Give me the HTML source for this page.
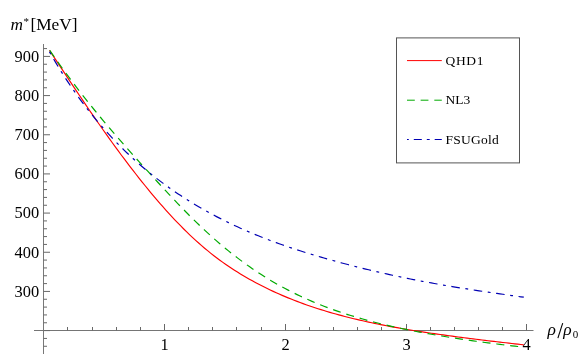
<!DOCTYPE html>
<html><head><meta charset="utf-8"><title>m* vs rho</title>
<style>html,body{margin:0;padding:0;background:#fff;}svg{display:block;will-change:transform;}.ls{font-family:"Liberation Serif",serif;}</style></head>
<body><svg width="581" height="364" viewBox="0 0 581 364">
<rect width="581" height="364" fill="#fff"/>
<g stroke="#686868" stroke-width="1" fill="none">
<line x1="34" y1="330.5" x2="533.5" y2="330.5" stroke="#757575"/>
<line x1="43.5" y1="44" x2="43.5" y2="354" stroke="#787878"/>
<line x1="67.5" y1="330.5" x2="67.5" y2="327"/>
<line x1="92.5" y1="330.5" x2="92.5" y2="327"/>
<line x1="116.5" y1="330.5" x2="116.5" y2="327"/>
<line x1="140.5" y1="330.5" x2="140.5" y2="327"/>
<line x1="164.5" y1="330.5" x2="164.5" y2="324"/>
<line x1="188.5" y1="330.5" x2="188.5" y2="327"/>
<line x1="212.5" y1="330.5" x2="212.5" y2="327"/>
<line x1="236.5" y1="330.5" x2="236.5" y2="327"/>
<line x1="261.5" y1="330.5" x2="261.5" y2="327"/>
<line x1="285.5" y1="330.5" x2="285.5" y2="324"/>
<line x1="309.5" y1="330.5" x2="309.5" y2="327"/>
<line x1="333.5" y1="330.5" x2="333.5" y2="327"/>
<line x1="357.5" y1="330.5" x2="357.5" y2="327"/>
<line x1="381.5" y1="330.5" x2="381.5" y2="327"/>
<line x1="406.5" y1="330.5" x2="406.5" y2="324"/>
<line x1="430.5" y1="330.5" x2="430.5" y2="327"/>
<line x1="454.5" y1="330.5" x2="454.5" y2="327"/>
<line x1="478.5" y1="330.5" x2="478.5" y2="327"/>
<line x1="502.5" y1="330.5" x2="502.5" y2="327"/>
<line x1="526.5" y1="330.5" x2="526.5" y2="324"/>
<line x1="43.5" y1="346.27" x2="47" y2="346.27"/>
<line x1="43.5" y1="338.43" x2="47" y2="338.43"/>
<line x1="43.5" y1="330.6" x2="50" y2="330.6"/>
<line x1="43.5" y1="322.77" x2="47" y2="322.77"/>
<line x1="43.5" y1="314.93" x2="47" y2="314.93"/>
<line x1="43.5" y1="307.1" x2="47" y2="307.1"/>
<line x1="43.5" y1="299.26" x2="47" y2="299.26"/>
<line x1="43.5" y1="291.43" x2="50" y2="291.43"/>
<line x1="43.5" y1="283.6" x2="47" y2="283.6"/>
<line x1="43.5" y1="275.76" x2="47" y2="275.76"/>
<line x1="43.5" y1="267.93" x2="47" y2="267.93"/>
<line x1="43.5" y1="260.09" x2="47" y2="260.09"/>
<line x1="43.5" y1="252.26" x2="50" y2="252.26"/>
<line x1="43.5" y1="244.43" x2="47" y2="244.43"/>
<line x1="43.5" y1="236.59" x2="47" y2="236.59"/>
<line x1="43.5" y1="228.76" x2="47" y2="228.76"/>
<line x1="43.5" y1="220.92" x2="47" y2="220.92"/>
<line x1="43.5" y1="213.09" x2="50" y2="213.09"/>
<line x1="43.5" y1="205.26" x2="47" y2="205.26"/>
<line x1="43.5" y1="197.42" x2="47" y2="197.42"/>
<line x1="43.5" y1="189.59" x2="47" y2="189.59"/>
<line x1="43.5" y1="181.75" x2="47" y2="181.75"/>
<line x1="43.5" y1="173.92" x2="50" y2="173.92"/>
<line x1="43.5" y1="166.09" x2="47" y2="166.09"/>
<line x1="43.5" y1="158.25" x2="47" y2="158.25"/>
<line x1="43.5" y1="150.42" x2="47" y2="150.42"/>
<line x1="43.5" y1="142.58" x2="47" y2="142.58"/>
<line x1="43.5" y1="134.75" x2="50" y2="134.75"/>
<line x1="43.5" y1="126.92" x2="47" y2="126.92"/>
<line x1="43.5" y1="119.08" x2="47" y2="119.08"/>
<line x1="43.5" y1="111.25" x2="47" y2="111.25"/>
<line x1="43.5" y1="103.41" x2="47" y2="103.41"/>
<line x1="43.5" y1="95.58" x2="50" y2="95.58"/>
<line x1="43.5" y1="87.75" x2="47" y2="87.75"/>
<line x1="43.5" y1="79.91" x2="47" y2="79.91"/>
<line x1="43.5" y1="72.08" x2="47" y2="72.08"/>
<line x1="43.5" y1="64.24" x2="47" y2="64.24"/>
<line x1="43.5" y1="56.41" x2="50" y2="56.41"/>
<line x1="43.5" y1="48.58" x2="47" y2="48.58"/>
</g>
<g class="ls" font-size="16.4" fill="#000">
<text x="39.2" y="296.83" text-anchor="end">300</text>
<text x="39.2" y="257.66" text-anchor="end">400</text>
<text x="39.2" y="218.49" text-anchor="end">500</text>
<text x="39.2" y="179.32" text-anchor="end">600</text>
<text x="39.2" y="140.15" text-anchor="end">700</text>
<text x="39.2" y="100.98" text-anchor="end">800</text>
<text x="39.2" y="61.81" text-anchor="end">900</text>
<text x="164.5" y="350.3" text-anchor="middle">1</text>
<text x="285.5" y="350.3" text-anchor="middle">2</text>
<text x="406.5" y="350.3" text-anchor="middle">3</text>
<text x="526.5" y="350.3" text-anchor="middle">4</text>
<text x="10.4" y="30" font-size="17.3"><tspan font-style="italic">m</tspan><tspan font-size="11" dy="-5" dx="0.5">*</tspan><tspan dy="5" dx="1.6">[MeV]</tspan></text>
<text x="547.6" y="334.7" font-size="17.5" font-style="italic">ρ</text>
<line x1="557.9" y1="338.1" x2="562.7" y2="323.2" stroke="#000" stroke-width="1.1"/>
<text x="563.3" y="334.7" font-size="17.5" font-style="italic">ρ</text>
<text x="572.8" y="338.1" font-size="11">0</text>
</g>
<path d="M49.50,50.37 L52.48,54.88 L55.47,59.39 L58.45,63.90 L61.43,68.41 L64.42,72.91 L67.40,77.41 L70.38,81.89 L73.36,86.36 L76.35,90.82 L79.33,95.26 L82.31,99.69 L85.30,104.09 L88.28,108.48 L91.26,112.84 L94.25,117.17 L97.23,121.48 L100.21,125.75 L103.19,129.99 L106.18,134.20 L109.16,138.38 L112.14,142.52 L115.13,146.62 L118.11,150.69 L121.09,154.72 L124.08,158.71 L127.06,162.66 L130.04,166.57 L133.02,170.45 L136.01,174.27 L138.99,178.06 L141.97,181.80 L144.96,185.50 L147.94,189.15 L150.92,192.76 L153.91,196.31 L156.89,199.82 L159.87,203.28 L162.85,206.69 L165.84,210.04 L168.82,213.34 L171.80,216.59 L174.79,219.77 L177.77,222.90 L180.75,225.97 L183.74,228.98 L186.72,231.92 L189.70,234.80 L192.68,237.62 L195.67,240.37 L198.65,243.05 L201.63,245.66 L204.62,248.21 L207.60,250.68 L210.58,253.09 L213.57,255.44 L216.55,257.72 L219.53,259.95 L222.52,262.11 L225.50,264.21 L228.48,266.26 L231.46,268.26 L234.45,270.20 L237.43,272.09 L240.41,273.94 L243.40,275.73 L246.38,277.48 L249.36,279.18 L252.35,280.84 L255.33,282.46 L258.31,284.04 L261.29,285.58 L264.28,287.09 L267.26,288.55 L270.24,289.99 L273.23,291.38 L276.21,292.75 L279.19,294.08 L282.18,295.38 L285.16,296.64 L288.14,297.88 L291.12,299.09 L294.11,300.26 L297.09,301.41 L300.07,302.53 L303.06,303.62 L306.04,304.69 L309.02,305.72 L312.01,306.74 L314.99,307.73 L317.97,308.70 L320.95,309.64 L323.94,310.56 L326.92,311.46 L329.90,312.34 L332.89,313.20 L335.87,314.04 L338.85,314.86 L341.84,315.66 L344.82,316.44 L347.80,317.21 L350.78,317.96 L353.77,318.69 L356.75,319.40 L359.73,320.10 L362.72,320.79 L365.70,321.46 L368.68,322.11 L371.67,322.75 L374.65,323.38 L377.63,323.99 L380.62,324.59 L383.60,325.17 L386.58,325.75 L389.56,326.31 L392.55,326.86 L395.53,327.41 L398.51,327.94 L401.50,328.46 L404.48,328.97 L407.46,329.47 L410.45,329.97 L413.43,330.45 L416.41,330.93 L419.39,331.40 L422.38,331.87 L425.36,332.32 L428.34,332.77 L431.33,333.22 L434.31,333.66 L437.29,334.09 L440.28,334.52 L443.26,334.94 L446.24,335.36 L449.22,335.77 L452.21,336.17 L455.19,336.58 L458.17,336.97 L461.16,337.36 L464.14,337.75 L467.12,338.13 L470.11,338.51 L473.09,338.89 L476.07,339.26 L479.05,339.63 L482.04,339.99 L485.02,340.35 L488.00,340.71 L490.99,341.06 L493.97,341.41 L496.95,341.76 L499.94,342.11 L502.92,342.45 L505.90,342.79 L508.88,343.13 L511.87,343.47 L514.85,343.81 L517.83,344.14 L520.82,344.48 L523.80,344.81" stroke="#ff0000" stroke-width="1.15" fill="none"/>
<path d="M49.50,50.03 L52.48,54.36 L55.47,58.63 L58.45,62.85 L61.43,67.02 L64.42,71.13 L67.40,75.20 L70.38,79.21 L73.36,83.18 L76.35,87.10 L79.33,90.98 L82.31,94.81 L85.30,98.61 L88.28,102.36 L91.26,106.07 L94.25,109.75 L97.23,113.39 L100.21,117.00 L103.19,120.58 L106.18,124.13 L109.16,127.64 L112.14,131.13 L115.13,134.60 L118.11,138.04 L121.09,141.45 L124.08,144.85 L127.06,148.22 L130.04,151.58 L133.02,154.92 L136.01,158.25 L138.99,161.56 L141.97,164.86 L144.96,168.15 L147.94,171.43 L150.92,174.70 L153.91,177.97 L156.89,181.22 L159.87,184.47 L162.85,187.70 L165.84,190.91 L168.82,194.11 L171.80,197.28 L174.79,200.44 L177.77,203.56 L180.75,206.66 L183.74,209.73 L186.72,212.76 L189.70,215.76 L192.68,218.72 L195.67,221.65 L198.65,224.53 L201.63,227.37 L204.62,230.16 L207.60,232.90 L210.58,235.61 L213.57,238.26 L216.55,240.87 L219.53,243.44 L222.52,245.96 L225.50,248.43 L228.48,250.86 L231.46,253.25 L234.45,255.59 L237.43,257.88 L240.41,260.13 L243.40,262.34 L246.38,264.50 L249.36,266.61 L252.35,268.68 L255.33,270.71 L258.31,272.69 L261.29,274.62 L264.28,276.51 L267.26,278.36 L270.24,280.16 L273.23,281.93 L276.21,283.65 L279.19,285.33 L282.18,286.97 L285.16,288.57 L288.14,290.13 L291.12,291.66 L294.11,293.14 L297.09,294.60 L300.07,296.01 L303.06,297.40 L306.04,298.75 L309.02,300.06 L312.01,301.35 L314.99,302.60 L317.97,303.83 L320.95,305.02 L323.94,306.19 L326.92,307.32 L329.90,308.43 L332.89,309.52 L335.87,310.58 L338.85,311.61 L341.84,312.62 L344.82,313.60 L347.80,314.56 L350.78,315.50 L353.77,316.41 L356.75,317.31 L359.73,318.18 L362.72,319.03 L365.70,319.86 L368.68,320.67 L371.67,321.47 L374.65,322.24 L377.63,323.00 L380.62,323.74 L383.60,324.46 L386.58,325.17 L389.56,325.86 L392.55,326.54 L395.53,327.20 L398.51,327.85 L401.50,328.48 L404.48,329.10 L407.46,329.71 L410.45,330.31 L413.43,330.90 L416.41,331.48 L419.39,332.04 L422.38,332.60 L425.36,333.15 L428.34,333.69 L431.33,334.22 L434.31,334.75 L437.29,335.26 L440.28,335.77 L443.26,336.27 L446.24,336.76 L449.22,337.24 L452.21,337.72 L455.19,338.18 L458.17,338.64 L461.16,339.09 L464.14,339.54 L467.12,339.98 L470.11,340.41 L473.09,340.83 L476.07,341.25 L479.05,341.66 L482.04,342.07 L485.02,342.47 L488.00,342.86 L490.99,343.24 L493.97,343.63 L496.95,344.00 L499.94,344.37 L502.92,344.73 L505.90,345.09 L508.88,345.45 L511.87,345.80 L514.85,346.14 L517.83,346.48 L520.82,346.81 L523.80,347.14" stroke="#00aa00" stroke-width="1.2" fill="none" stroke-dasharray="8.0 5.925" stroke-dashoffset="-0.4"/>
<path d="M49.50,51.88 L52.48,57.08 L55.47,62.14 L58.45,67.08 L61.43,71.89 L64.42,76.57 L67.40,81.14 L70.38,85.60 L73.36,89.94 L76.35,94.17 L79.33,98.31 L82.31,102.34 L85.30,106.27 L88.28,110.11 L91.26,113.86 L94.25,117.53 L97.23,121.11 L100.21,124.61 L103.19,128.04 L106.18,131.40 L109.16,134.68 L112.14,137.89 L115.13,141.04 L118.11,144.11 L121.09,147.12 L124.08,150.07 L127.06,152.95 L130.04,155.77 L133.02,158.53 L136.01,161.23 L138.99,163.87 L141.97,166.46 L144.96,168.99 L147.94,171.47 L150.92,173.90 L153.91,176.28 L156.89,178.61 L159.87,180.89 L162.85,183.13 L165.84,185.32 L168.82,187.46 L171.80,189.57 L174.79,191.62 L177.77,193.64 L180.75,195.62 L183.74,197.56 L186.72,199.46 L189.70,201.32 L192.68,203.15 L195.67,204.94 L198.65,206.70 L201.63,208.43 L204.62,210.12 L207.60,211.79 L210.58,213.42 L213.57,215.02 L216.55,216.60 L219.53,218.14 L222.52,219.66 L225.50,221.14 L228.48,222.60 L231.46,224.04 L234.45,225.44 L237.43,226.82 L240.41,228.18 L243.40,229.51 L246.38,230.82 L249.36,232.10 L252.35,233.36 L255.33,234.59 L258.31,235.81 L261.29,237.00 L264.28,238.18 L267.26,239.33 L270.24,240.46 L273.23,241.57 L276.21,242.67 L279.19,243.74 L282.18,244.80 L285.16,245.84 L288.14,246.86 L291.12,247.87 L294.11,248.86 L297.09,249.84 L300.07,250.80 L303.06,251.74 L306.04,252.68 L309.02,253.59 L312.01,254.50 L314.99,255.39 L317.97,256.28 L320.95,257.15 L323.94,258.01 L326.92,258.86 L329.90,259.70 L332.89,260.53 L335.87,261.35 L338.85,262.16 L341.84,262.97 L344.82,263.76 L347.80,264.54 L350.78,265.32 L353.77,266.09 L356.75,266.85 L359.73,267.59 L362.72,268.33 L365.70,269.06 L368.68,269.79 L371.67,270.50 L374.65,271.20 L377.63,271.90 L380.62,272.59 L383.60,273.27 L386.58,273.93 L389.56,274.60 L392.55,275.25 L395.53,275.89 L398.51,276.53 L401.50,277.15 L404.48,277.77 L407.46,278.38 L410.45,278.98 L413.43,279.57 L416.41,280.16 L419.39,280.73 L422.38,281.30 L425.36,281.86 L428.34,282.41 L431.33,282.95 L434.31,283.49 L437.29,284.02 L440.28,284.54 L443.26,285.06 L446.24,285.56 L449.22,286.07 L452.21,286.56 L455.19,287.05 L458.17,287.54 L461.16,288.01 L464.14,288.49 L467.12,288.96 L470.11,289.42 L473.09,289.88 L476.07,290.33 L479.05,290.79 L482.04,291.23 L485.02,291.68 L488.00,292.12 L490.99,292.55 L493.97,292.99 L496.95,293.42 L499.94,293.85 L502.92,294.27 L505.90,294.70 L508.88,295.12 L511.87,295.54 L514.85,295.96 L517.83,296.38 L520.82,296.79 L523.80,297.21" stroke="#0000b3" stroke-width="1.2" fill="none" stroke-dasharray="8.6 5.6 2.85 5.6" stroke-dashoffset="14.35"/>
<rect x="396.5" y="37.9" width="123" height="125" fill="#fff" stroke="#555555" stroke-width="1"/>
<line x1="407" y1="60.6" x2="441.8" y2="60.6" stroke="#ff0000" stroke-width="1"/>
<line x1="407" y1="100.2" x2="441.8" y2="100.2" stroke="#00aa00" stroke-width="1" stroke-dasharray="7.8 5.85"/>
<line x1="407" y1="139.5" x2="441.8" y2="139.5" stroke="#0000b3" stroke-width="1" stroke-dasharray="8 5 2.9 5" stroke-dashoffset="14.1"/>
<g class="ls" font-size="13.5" fill="#000">
<text x="445.6" y="64.5" letter-spacing="0.6">QHD1</text>
<text x="445.6" y="104.4">NL3</text>
<text x="445.6" y="143.8" letter-spacing="0.25">FSUGold</text>
</g>
</svg></body></html>
